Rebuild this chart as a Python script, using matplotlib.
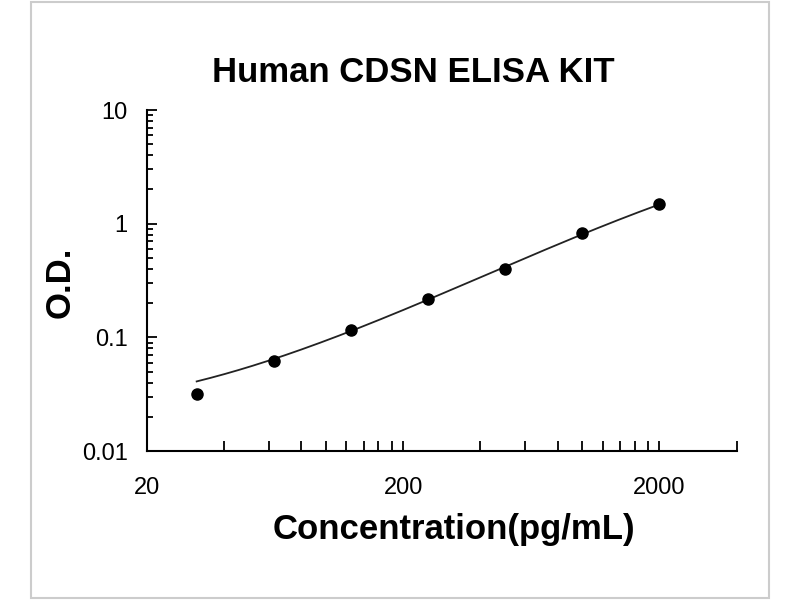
import matplotlib
matplotlib.use("Agg")
import matplotlib.pyplot as plt
import matplotlib.ticker as mticker
from matplotlib.patches import Rectangle
import numpy as np

plt.rcParams['font.family'] = ['Liberation Sans', 'DejaVu Sans']

# standard concentrations (pg/mL) and measured O.D.
conc = [31.25, 62.5, 125, 250, 500, 1000, 2000]
od = [0.032, 0.062, 0.117, 0.219, 0.40, 0.83, 1.50]
# fitted curve values read at the same concentrations
od_fit = [0.041, 0.064, 0.115, 0.215, 0.41, 0.82, 1.47]

x_major = [20, 200, 2000]
x_labels = ['20', '200', '2000']
y_major = [0.01, 0.1, 1, 10]
y_labels = ['0.01', '0.1', '1', '10']

fig = plt.figure(figsize=(8, 6), dpi=100)
fig.add_artist(Rectangle((31 / 800, 2 / 600), 738 / 800, 596 / 600,
                         transform=fig.transFigure, fill=False,
                         edgecolor='#cccccc', linewidth=1.5))

ax = fig.add_axes([147 / 800, 1 - 451 / 600, (736.6 - 147) / 800, (451 - 110) / 600])

# smooth fit line in log-log space
coef = np.polyfit(np.log10(conc), np.log10(od_fit), 3)
xs = np.logspace(np.log10(conc[0]), np.log10(conc[-1]), 200)
ax.plot(xs, 10 ** np.polyval(coef, np.log10(xs)), color='#222222', linewidth=1.3)
ax.plot(conc, od, 'o', color='black', markersize=8)

ax.set_xscale('log')
ax.set_yscale('log')
ax.set_xlim(20, 4000)
ax.set_ylim(0.01, 10)

ax.xaxis.set_major_locator(mticker.FixedLocator(x_major))
ax.xaxis.set_major_formatter(mticker.FixedFormatter(x_labels))
x_minor = [20 * k for k in range(2, 10)] + [200 * k for k in range(2, 10)] + [4000]
ax.xaxis.set_minor_locator(mticker.FixedLocator(x_minor))
ax.xaxis.set_minor_formatter(mticker.NullFormatter())

ax.yaxis.set_major_locator(mticker.FixedLocator(y_major))
ax.yaxis.set_major_formatter(mticker.FixedFormatter(y_labels))
ax.yaxis.set_minor_locator(mticker.LogLocator(base=10, subs=np.arange(2, 10)))
ax.yaxis.set_minor_formatter(mticker.NullFormatter())

for s in ['top', 'right']:
    ax.spines[s].set_visible(False)
for s in ['left', 'bottom']:
    ax.spines[s].set_linewidth(1.5)

ax.tick_params(axis='x', which='both', direction='in', length=7, width=1.3,
               labelsize=17, pad=19)
ax.tick_params(axis='y', which='major', direction='in', length=7, width=1.3,
               labelsize=17, pad=14)
ax.tick_params(axis='y', which='minor', direction='in', length=4.5, width=1.3)

fig.text(413 / 800, 1 - 72 / 600, 'Human CDSN ELISA KIT', ha='center', va='center',
         fontsize=25, fontweight='bold')
fig.text(60 / 800, 1 - 282 / 600, 'O.D.', ha='center', va='center', rotation=90,
         fontsize=25, fontweight='bold')
fig.text(454 / 800, 1 - 530 / 600, 'Concentration(pg/mL)', ha='center', va='center',
         fontsize=25, fontweight='bold')

fig.savefig('out.png', dpi=100)
